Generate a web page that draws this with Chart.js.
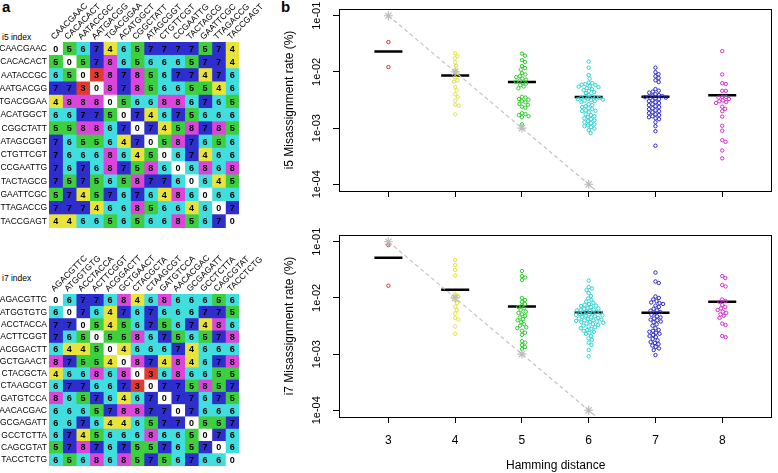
<!DOCTYPE html>
<html lang="en">
<head>
<meta charset="UTF-8">
<title>Index misassignment by Hamming distance</title>
<script src="https://cdn.jsdelivr.net/npm/chart.js"></script>
<style>
  body { margin: 0; background: #fff; font-family: "Liberation Sans", Arial, sans-serif; }
  #wrap { position: relative; width: 778px; height: 473px; overflow: hidden; }
  .box { position: absolute; }
  .panel { position: absolute; font-weight: bold; font-size: 15px; }
  .idx { position: absolute; font-size: 8.5px; }
</style>
</head>
<body>
<div id="wrap">
  <div class="panel" style="left:2px;top:-2px">a</div>
  <div class="panel" style="left:281px;top:-2px">b</div>
  <div class="idx" style="left:2px;top:32px">i5 index</div>
  <div class="idx" style="left:2px;top:273px">i7 index</div>
  <div class="box" style="left:0;top:0;width:270px;height:235px"><canvas id="heatI5"></canvas></div>
  <div class="box" style="left:0;top:250px;width:270px;height:223px"><canvas id="heatI7"></canvas></div>
  <div class="box" style="left:270px;top:0;width:508px;height:230px"><canvas id="rateI5"></canvas></div>
  <div class="box" style="left:270px;top:226px;width:508px;height:247px"><canvas id="rateI7"></canvas></div>
</div>

<script>
// ---- panel a: index sequences and pairwise Hamming distances ----
const i5Names = ['CAACGAAC','CACACACT','AATACCGC','AATGACGG','TGACGGAA','ACATGGCT','CGGCTATT',
                 'ATAGCGGT','CTGTTCGT','CCGAATTG','TACTAGCG','GAATTCGC','TTAGACCG','TACCGAGT'];
const i5Dist = [
  [0,5,6,7,4,6,5,7,7,7,7,5,7,4],
  [5,0,5,7,8,6,5,6,6,6,5,7,7,4],
  [6,5,0,3,8,7,8,5,6,7,7,4,7,6],
  [7,7,3,0,8,7,8,5,6,6,5,5,4,6],
  [4,8,8,8,0,5,6,6,8,8,6,7,6,5],
  [6,6,7,7,5,0,7,4,6,7,5,6,6,6],
  [5,5,8,8,6,7,0,7,4,5,8,7,8,5],
  [7,6,5,5,6,4,7,0,5,8,7,6,5,6],
  [7,6,6,6,8,6,4,5,0,6,7,4,6,6],
  [7,6,7,6,8,7,5,8,6,0,6,8,6,8],
  [7,5,7,5,6,5,8,7,7,6,0,6,4,5],
  [5,7,4,5,7,6,7,6,4,8,6,0,6,6],
  [7,7,7,4,6,6,8,5,6,6,4,6,0,7],
  [4,4,6,6,5,6,5,6,6,8,5,6,7,0]
];
const i7Names = ['AGACGTTC','ATGGTGTG','ACCTACCA','ACTTCGGT','ACGGACTT','GCTGAACT','CTACGCTA',
                 'CTAAGCGT','GATGTCCA','AACACGAC','GCGAGATT','GCCTCTTA','CAGCGTAT','TACCTCTG'];
const i7Dist = [
  [0,6,7,7,6,8,4,6,8,6,6,6,5,6],
  [6,0,7,6,4,7,6,7,6,6,6,7,7,5],
  [7,7,0,5,4,5,6,7,5,6,7,4,8,6],
  [7,6,5,0,5,5,8,6,7,5,6,5,7,8],
  [6,4,4,5,0,4,6,6,6,7,4,6,6,6],
  [8,7,5,5,4,0,8,7,4,8,4,6,7,8],
  [4,6,6,8,6,8,0,3,6,8,6,6,5,5],
  [6,7,7,6,6,7,3,0,7,7,5,8,5,7],
  [8,6,5,7,6,4,6,7,0,7,7,6,7,5],
  [6,6,6,5,7,8,8,7,7,0,7,6,6,6],
  [6,6,7,6,4,4,6,5,7,7,0,5,5,7],
  [6,7,4,5,6,6,6,8,6,6,5,0,7,6],
  [5,7,8,7,6,7,5,5,7,6,5,7,0,6],
  [6,5,6,8,6,8,5,7,5,6,7,6,6,0]
];

// ---- panel b: misassignment rate (%) per index pair, grouped by distance ----
const distances = [3, 4, 5, 6, 7, 8];
const i5d3 = [0.034, 0.0122];
const i5d4 = [0.0214, 0.0191, 0.0174, 0.0148, 0.0128, 0.0108, 0.0096, 0.0080, 0.0071, 0.0067,
              0.0054, 0.0047, 0.0040, 0.0036, 0.0031, 0.0026, 0.0025, 0.00175];
const i5d5 = [0.0212, 0.0195, 0.0162, 0.0150, 0.0127, 0.0117, 0.0110, 0.0095, 0.0090, 0.0084,
              0.0081, 0.0076, 0.0073, 0.0070, 0.0067, 0.0065, 0.0062, 0.0058, 0.0055, 0.0051,
              0.0036, 0.0035, 0.0033, 0.0032, 0.0030, 0.0029, 0.0027, 0.0026, 0.0024, 0.0023,
              0.00184, 0.00177, 0.0017, 0.00163, 0.00156, 0.00117];
const i5d6 = [0.0153, 0.0119, 0.0088, 0.0076, 0.00645, 0.00632, 0.00606, 0.00594, 0.00582, 0.00558,
              0.00547, 0.00536, 0.00514, 0.00494, 0.00474, 0.00455, 0.00437, 0.00419,
              0.00386, 0.0037, 0.00363, 0.00355, 0.00348, 0.00341, 0.00334, 0.00327, 0.00321,
              0.00314, 0.00308, 0.00302, 0.0029,
              0.00267, 0.00256, 0.00246, 0.00236, 0.00226, 0.00217, 0.00208, 0.00204, 0.002, 0.00192,
              0.00177, 0.0017, 0.00163, 0.00156, 0.0015, 0.00144, 0.00138, 0.00133, 0.00127, 0.00122,
              0.00117, 0.00112, 0.00108, 0.00104, 0.00098, 0.00092, 0.00081];
const i5d7 = [0.0119, 0.0099, 0.0091, 0.0084, 0.0078, 0.0071, 0.0066,
              0.00494, 0.00464, 0.00446, 0.00428,
              0.00402, 0.00386, 0.00378, 0.0037, 0.00363, 0.00355, 0.00348, 0.00341, 0.00327,
              0.00314, 0.00302, 0.0029, 0.00278,
              0.00267, 0.00256, 0.00246, 0.00236, 0.00226, 0.00217, 0.00208, 0.002, 0.00192,
              0.00184, 0.00177, 0.0017, 0.00163, 0.00156, 0.0015, 0.00144,
              0.00127, 0.00108, 0.00088, 0.000486];
const i5d8 = [0.0235, 0.0090, 0.0063, 0.0061, 0.0046, 0.0046, 0.0036, 0.0036, 0.0035, 0.0033,
              0.0031, 0.0030, 0.0029, 0.0028, 0.0024, 0.0022, 0.0020, 0.0016, 0.0011, 0.0009,
              0.00061, 0.00057, 0.00040, 0.00029];

const i7d3 = [0.087, 0.0165];
const i7d4 = [0.0473, 0.0385, 0.0314, 0.025, 0.0117, 0.0108, 0.0104, 0.0092, 0.0081, 0.0070,
              0.0061, 0.0053, 0.0044, 0.0041, 0.0031, 0.0023];
const i7d5 = [0.0301, 0.0245, 0.0231, 0.0208, 0.0100, 0.0092, 0.0085, 0.0078, 0.0073, 0.0069,
              0.0065, 0.0061, 0.0057, 0.0054, 0.0051, 0.0048, 0.0045, 0.0042, 0.0040, 0.0037,
              0.0034, 0.0032, 0.0030, 0.0029, 0.0026, 0.0024, 0.0022, 0.0017, 0.0016, 0.00145,
              0.00134, 0.00123];
const i7d6 = [0.0204, 0.0156, 0.0147, 0.0138, 0.0122, 0.0108,
              0.0098, 0.0092, 0.0086, 0.0081, 0.0078, 0.0075, 0.0073,
              0.0072, 0.0069, 0.0066, 0.0065, 0.0064, 0.0062, 0.0061,
              0.0060, 0.0059, 0.0057, 0.0056, 0.0055, 0.0054, 0.0053, 0.0052, 0.0051,
              0.0050, 0.0049, 0.0048, 0.0047, 0.0046, 0.0045, 0.0044, 0.0043, 0.0042, 0.0041,
              0.0040, 0.0040, 0.0039, 0.0038, 0.0037, 0.0037, 0.0036, 0.0035, 0.0034,
              0.0033, 0.0032, 0.0031, 0.0030, 0.0029, 0.0028, 0.0027, 0.0026, 0.0025, 0.0024, 0.0023,
              0.0021, 0.0019, 0.0018, 0.0016, 0.00145, 0.00118, 0.00091];
const i7d7 = [0.0283, 0.0196, 0.0184,
              0.0106, 0.0100, 0.0094, 0.0088, 0.0083, 0.0081,
              0.0078, 0.0073, 0.0069, 0.0064, 0.0060, 0.0059,
              0.0056, 0.0053, 0.0050, 0.0047, 0.0045,
              0.0043, 0.0041, 0.0040, 0.0038, 0.0037,
              0.0034, 0.0032, 0.0029, 0.0027, 0.0026,
              0.0025, 0.0024, 0.0023, 0.0022, 0.0021,
              0.0020, 0.00186, 0.00175, 0.00164, 0.00158,
              0.00151, 0.00142, 0.00134, 0.00126, 0.00118, 0.00096];
const i7d8 = [0.0245, 0.0226, 0.0170, 0.0160, 0.0094, 0.0088, 0.0085, 0.0075, 0.0069, 0.0065,
              0.0061, 0.0057, 0.0054, 0.0051, 0.0048, 0.0044, 0.0035, 0.0033, 0.0021, 0.0020];

// expected rate if each extra mismatch costs a factor of 10
const refDistance = [3, 4, 5, 6, 7];
const refRate = [1e-1, 1e-2, 1e-3, 1e-4, 1e-5];

const yTicks = [1e-4, 5e-4, 1e-3, 5e-3, 1e-2, 5e-2, 1e-1];
const yTickLabels = ['1e-04', '', '1e-03', '', '1e-02', '', '1e-01'];

const cellColours = {0: '#ffffff', 3: '#e23b2e', 4: '#e9e43a', 5: '#3dcf3d', 6: '#40dede', 7: '#2e2ecf', 8: '#db45db'};
const pointColours = ['#dd2a2a', '#e3e33a', '#2fce2f', '#2fd2d2', '#2a2ac8', '#d42ed4'];

const FONT = '"Liberation Sans", Arial, sans-serif';

// numbers written in the middle of each heatmap cell
const cellText = {
  id: 'cellText',
  afterDatasetsDraw(chart, args, opts) {
    const ctx = chart.ctx;
    ctx.save();
    ctx.font = 'bold 9px ' + FONT;
    ctx.textAlign = 'center';
    ctx.textBaseline = 'middle';
    ctx.fillStyle = '#000';
    chart.data.datasets.forEach((ds, j) => {
      chart.getDatasetMeta(j).data.forEach((bar, i) => {
        const p = bar.getCenterPoint();
        ctx.fillText(String(opts.dist[i][j]), p.x, p.y + 0.5);
      });
    });
    ctx.restore();
  }
};

function heatmap(id, names, dist, topAxisHeight, bottomPad) {
  const datasets = names.map((col, j) => ({
    label: col,
    data: names.map(() => 1),
    backgroundColor: dist.map(row => cellColours[row[j]]),
    borderWidth: 0,
    barPercentage: 1,
    categoryPercentage: 1
  }));
  return new Chart(document.getElementById(id), {
    type: 'bar',
    data: { labels: names, datasets: datasets },
    options: {
      indexAxis: 'y',
      responsive: true,
      maintainAspectRatio: false,
      animation: false,
      layout: { padding: { right: 31, bottom: bottomPad } },
      plugins: { legend: { display: false }, tooltip: { enabled: false }, cellText: { dist: dist } },
      scales: {
        y: {
          stacked: true,
          grid: { display: false, drawTicks: false },
          border: { display: false },
          ticks: { color: '#000', font: { size: 8.5, family: FONT }, padding: 2, autoSkip: false },
          afterFit: s => { s.width = 49; }
        },
        x: {
          type: 'linear',
          position: 'top',
          stacked: true,
          min: 0,
          max: names.length,
          grid: { display: false, drawTicks: false },
          border: { display: false },
          afterBuildTicks: s => { s.ticks = names.map((_, j) => ({ value: j + 0.5 })); },
          ticks: {
            autoSkip: false, minRotation: 45, maxRotation: 45, padding: 0, labelOffset: 4,
            color: '#000', font: { size: 8.5, family: FONT },
            callback: (v, i) => names[i]
          },
          afterFit: s => { s.height = topAxisHeight; }
        }
      }
    },
    plugins: [cellText]
  });
}

heatmap('heatI5', i5Names, i5Dist, 42, 4);
heatmap('heatI7', i7Names, i7Dist, 44, 0);

// ---- swarm layout: place points side by side when they would overlap ----
const PX_PER_DECADE = 56.1, PX_PER_UNIT = 67.6, DOT = 3.7;
function swarmOffsets(vals) {
  const pts = vals.map((v, i) => ({ i: i, y: -Math.log10(v) * PX_PER_DECADE, x: 0 }))
                  .sort((a, b) => a.y - b.y);
  const placed = [];
  pts.forEach(p => {
    const cands = [0];
    placed.forEach(q => {
      const dy = Math.abs(p.y - q.y);
      if (dy < DOT) {
        const dx = Math.sqrt(DOT * DOT - dy * dy);
        cands.push(q.x + dx, q.x - dx);
      }
    });
    cands.sort((a, b) => Math.abs(a) - Math.abs(b));
    for (const c of cands) {
      if (placed.every(q => Math.hypot(q.x - c, q.y - p.y) >= DOT - 1e-6)) { p.x = c; break; }
    }
    placed.push(p);
  });
  const out = [];
  pts.forEach(p => { out[p.i] = p.x / PX_PER_UNIT; });
  return out;
}
const mean = a => a.reduce((s, v) => s + v, 0) / a.length;

const frame = {
  id: 'frame',
  afterDraw(chart) {
    const a = chart.chartArea, ctx = chart.ctx;
    ctx.save();
    ctx.strokeStyle = '#000';
    ctx.lineWidth = 1;
    ctx.strokeRect(Math.round(a.left) + 0.5, Math.round(a.top) + 0.5,
                   Math.round(a.right - a.left) - 1, Math.round(a.bottom - a.top));
    ctx.restore();
  }
};

function rateChart(id, groups, yTitle, showX, xAxisHeight) {
  const datasets = [{
    type: 'line',
    data: refDistance.map((d, i) => ({ x: d, y: refRate[i] })),
    borderColor: '#c4c4c4',
    borderDash: [4, 3],
    borderWidth: 1.2,
    pointStyle: 'star',
    pointRadius: refDistance.map(d => d <= 6 ? 4.5 : 0),
    pointBorderColor: '#bcbcbc',
    pointBorderWidth: 1.2,
    fill: false
  }];
  groups.forEach((vals, k) => {
    const g = distances[k];
    const off = swarmOffsets(vals);
    datasets.push({
      type: 'scatter',
      data: vals.map((v, i) => ({ x: g + off[i], y: v })),
      borderColor: pointColours[k],
      backgroundColor: 'rgba(0,0,0,0)',
      pointRadius: 1.7,
      pointBorderWidth: 1
    });
    const m = mean(vals);
    datasets.push({
      type: 'line',
      data: [{ x: g - 0.21, y: m }, { x: g + 0.21, y: m }],
      borderColor: '#000',
      borderWidth: 2.5,
      pointRadius: 0
    });
  });

  return new Chart(document.getElementById(id), {
    type: 'scatter',
    data: { datasets: datasets },
    options: {
      responsive: true,
      maintainAspectRatio: false,
      animation: false,
      layout: { padding: { top: 9, right: 1, left: 0, bottom: 0 } },
      plugins: { legend: { display: false }, tooltip: { enabled: false } },
      scales: {
        x: {
          type: 'linear', min: 2.26, max: 8.75,
          afterBuildTicks: s => { s.ticks = distances.map(v => ({ value: v })); },
          grid: { drawOnChartArea: false, drawTicks: true, tickLength: 6, tickColor: '#000', tickWidth: 1 },
          border: { display: false },
          ticks: {
            padding: 10, color: '#000', font: { size: 12, family: FONT },
            callback: (v, i) => showX ? String(distances[i]) : ''
          },
          title: { display: showX, text: 'Hamming distance', color: '#000',
                   font: { size: 12, family: FONT }, padding: { top: 0, bottom: 0 } },
          afterFit: s => { s.height = xAxisHeight; }
        },
        y: {
          type: 'logarithmic', min: 7.59e-5, max: 0.1318,
          afterBuildTicks: s => { s.ticks = yTicks.map(v => ({ value: v })); },
          grid: { drawOnChartArea: false, drawTicks: true, tickLength: 6, tickColor: '#000', tickWidth: 1 },
          border: { display: false },
          ticks: {
            minRotation: 90, maxRotation: 90, crossAlign: 'center', padding: 2,
            color: '#000', font: { size: 11, family: FONT },
            callback: (v, i) => yTickLabels[i]
          },
          title: { display: true, text: yTitle, color: '#000',
                   font: { size: 12, family: FONT }, padding: { top: 12, bottom: 0 } },
          afterFit: s => { s.width = 69; }
        }
      }
    },
    plugins: [frame]
  });
}

rateChart('rateI5', [i5d3, i5d4, i5d5, i5d6, i5d7, i5d8], 'i5 Misassignment rate (%)', false, 39);
rateChart('rateI7', [i7d3, i7d4, i7d5, i7d6, i7d7, i7d8], 'i7 Misassignment rate (%)', true, 56);
</script>
</body>
</html>
